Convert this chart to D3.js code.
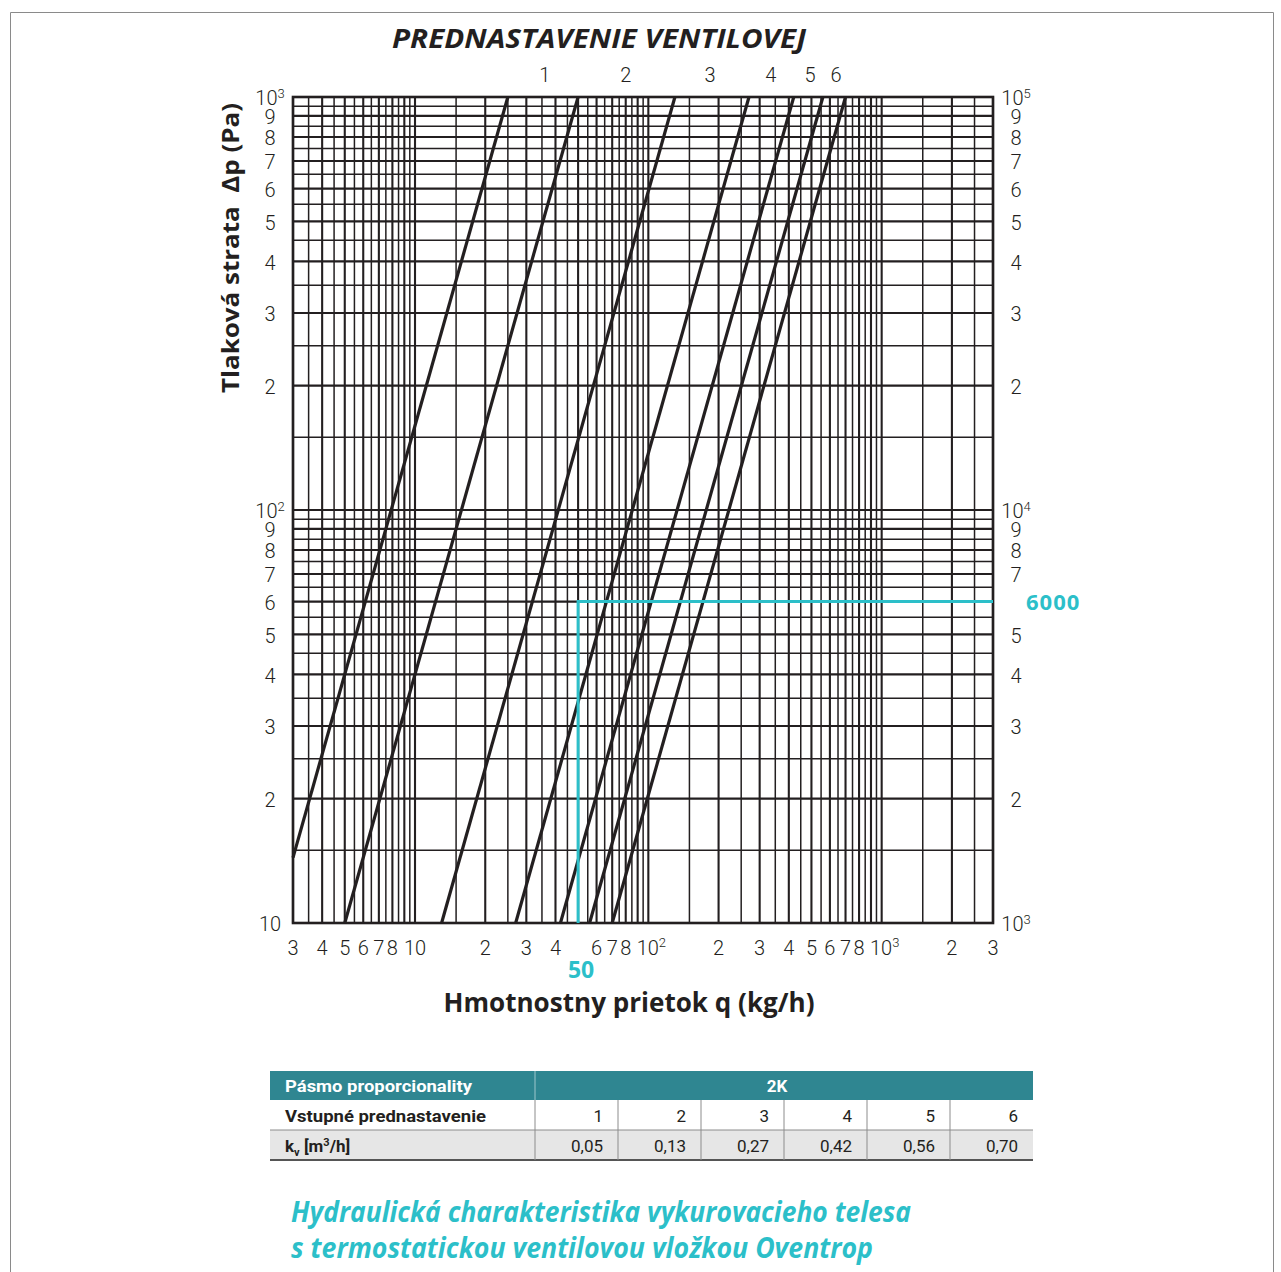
<!DOCTYPE html>
<meta charset="utf-8">
<style>
body { margin: 0; background: #fff; }
text { font-family: Roboto, "Open Sans", sans-serif; fill: #231f20; }
.tick { font-size: 20px; font-weight: 300; }
.title { font-family: "Open Sans", sans-serif; font-weight: 700; font-style: italic; }
.axtitle { font-family: "Open Sans", sans-serif; font-weight: 700; }
.tbl { font-family: "Liberation Sans Narrow", "Roboto Condensed", Roboto, sans-serif; font-size: 17px; }
</style>
<body>
<svg id="chart" width="1281" height="1272"></svg>
<script src="https://d3js.org/d3.v7.min.js"></script>
<script>

// valve lines: endpoints (q in kg/h, dp on left scale)
var lineQLow   = [3, 5, 13, 27, 42, 56, 70],
    lineDpLow  = [14.4, 10, 10, 10, 10, 10, 10],
    lineQHigh  = [25, 50, 130, 270, 420, 560, 700],
    lineDpHigh = [1000, 1000, 1000, 1000, 1000, 1000, 1000];

// presetting labels above the plot
var settingLabels = ["1", "2", "3", "4", "5", "6"],
    settingLabelQ = [36, 80, 184, 335, 493, 637];

// tick labels
var xTickVals = [3, 4, 5, 6, 7, 8, 10, 20, 30, 40, 60, 70, 80, 100, 200, 300, 400, 500, 600, 700, 800, 1000, 2000, 3000];
var yTickVals = [10, 20, 30, 40, 50, 60, 70, 80, 90, 100, 200, 300, 400, 500, 600, 700, 800, 900, 1000];
var yRTickVals = [1000, 2000, 3000, 4000, 5000, 7000, 8000, 9000, 10000, 20000, 30000, 40000, 50000, 60000, 70000, 80000, 90000, 100000];

// example reading
var markQ = 50, markDp = 60,
    markQText = "50", markDpText = "6000";

// table
var tableHeadLeft = "Pásmo proporcionality",
    tableHeadRight = "2K",
    presetRowLabel = "Vstupné prednastavenie",
    presets = ["1", "2", "3", "4", "5", "6"],
    kvValues = ["0,05", "0,13", "0,27", "0,42", "0,56", "0,70"];

var ink = "#231f20", cyan = "#2cbfc9", teal = "#2f8691";

var svg = d3.select("#chart");

var x = d3.scaleLog().domain([3, 3000]).range([293, 993]),
    y = d3.scaleLog().domain([10, 1000]).range([923, 97]),
    yR = d3.scaleLog().domain([1000, 100000]).range([923, 97]);

// outer frame
svg.append("path")
    .attr("d", "M10.5,1272V12.5H1273.5V1272")
    .attr("fill", "none").attr("stroke", "#8a8a8a").attr("stroke-width", 1);

// grid values: every half unit in each decade
function gridValues(lo, hi) {
  var out = [];
  [1, 10, 100, 1000, 10000].forEach(function(dec) {
    for (var m = 2; m < 20; m++) {
      var v = dec * m / 2;
      if (v >= lo - 1e-9 && v <= hi + 1e-9) out.push({v: v, major: m % 2 === 0});
    }
  });
  return out;
}

var g = svg.append("g");

g.selectAll(".vgrid")
  .data(gridValues(3, 3000))
  .enter().append("line")
    .attr("x1", function(d) { return x(d.v); })
    .attr("x2", function(d) { return x(d.v); })
    .attr("y1", y(10)).attr("y2", y(1000))
    .attr("stroke", ink)
    .attr("stroke-width", function(d) { return d.major ? 2.1 : 1.5; });

g.selectAll(".hgrid")
  .data(gridValues(10, 1000))
  .enter().append("line")
    .attr("y1", function(d) { return y(d.v); })
    .attr("y2", function(d) { return y(d.v); })
    .attr("x1", x(3)).attr("x2", x(3000))
    .attr("stroke", ink)
    .attr("stroke-width", function(d) { return d.major ? 2.1 : 1.5; });

g.append("rect")
    .attr("x", x(3)).attr("y", y(1000))
    .attr("width", x(3000) - x(3)).attr("height", y(10) - y(1000))
    .attr("fill", "none").attr("stroke", ink).attr("stroke-width", 2.6);

// valve lines
g.selectAll(".valve")
  .data(lineQLow.map(function(q, i) { return [[q, lineDpLow[i]], [lineQHigh[i], lineDpHigh[i]]]; }))
  .enter().append("line")
    .attr("x1", function(d) { return x(d[0][0]); })
    .attr("y1", function(d) { return y(d[0][1]); })
    .attr("x2", function(d) { return x(d[1][0]); })
    .attr("y2", function(d) { return y(d[1][1]); })
    .attr("stroke", ink).attr("stroke-width", 3.2);

// cyan reading
g.append("path")
    .attr("d", "M" + x(markQ) + "," + y(10) + "V" + y(markDp) + "H" + x(3000))
    .attr("fill", "none").attr("stroke", cyan).attr("stroke-width", 3);

svg.append("text")
    .attr("x", x(markQ) + 3).attr("y", 978)
    .attr("text-anchor", "middle")
    .style("font-family", "'Open Sans', sans-serif").style("font-weight", 700)
    .style("font-size", "23px").style("fill", cyan)
    .text(markQText);

svg.append("text")
    .attr("x", 1026).attr("y", y(markDp)).attr("dy", "0.36em")
    .style("font-family", "'Open Sans', sans-serif").style("font-weight", 700)
    .style("font-size", "22px").style("letter-spacing", "1px").style("fill", cyan)
    .text(markDpText);

// tick label helper: powers of ten get superscripts
function tickText(sel, v, plainTen) {
  var e = Math.round(Math.log10(v));
  if (Math.abs(Math.pow(10, e) - v) < 1e-6) {
    sel.append("tspan").text("10");
    if (!(plainTen && e === 1)) {
      sel.append("tspan").attr("dy", "-0.6em").style("font-size", "13px").text(e);
    }
  } else {
    sel.text(String(v / Math.pow(10, Math.floor(Math.log10(v) + 1e-9))));
  }
}

// left axis labels
yTickVals.forEach(function(v) {
  var t = svg.append("text").attr("class", "tick")
      .attr("x", 270).attr("y", y(v)).attr("dy", "0.42em")
      .attr("text-anchor", "middle");
  tickText(t, v, true);
});

// right axis labels (Pa)
yRTickVals.forEach(function(v) {
  var t = svg.append("text").attr("class", "tick")
      .attr("x", 1016).attr("y", yR(v)).attr("dy", "0.42em")
      .attr("text-anchor", "middle");
  tickText(t, v, false);
});

// bottom labels
xTickVals.forEach(function(v) {
  var t = svg.append("text").attr("class", "tick")
      .attr("x", x(v) + (v === 100 || v === 1000 ? 3 : 0)).attr("y", 955)
      .attr("text-anchor", "middle");
  tickText(t, v, true);
});

// presetting labels
svg.selectAll(".setl")
  .data(settingLabels)
  .enter().append("text").attr("class", "tick")
    .attr("x", function(d, i) { return x(settingLabelQ[i]); })
    .attr("y", 82)
    .attr("text-anchor", "middle")
    .text(function(d) { return d; });

// titles
svg.append("text").attr("class", "title")
    .attr("x", 599).attr("y", 48)
    .attr("text-anchor", "middle")
    .style("font-size", "27px")
    .attr("textLength", 414).attr("lengthAdjust", "spacingAndGlyphs")
    .text("PREDNASTAVENIE VENTILOVEJ");

svg.append("text").attr("class", "axtitle")
    .attr("x", 629).attr("y", 1012)
    .attr("text-anchor", "middle")
    .style("font-size", "26px")
    .attr("textLength", 371).attr("lengthAdjust", "spacingAndGlyphs")
    .text("Hmotnostny prietok q (kg/h)");

svg.append("text").attr("class", "axtitle")
    .attr("transform", "translate(239,248) rotate(-90)")
    .attr("text-anchor", "middle")
    .style("font-size", "24px")
    .style("white-space", "pre")
    .attr("textLength", 290).attr("lengthAdjust", "spacingAndGlyphs")
    .text("Tlaková strata  Δp (Pa)");

// table
var colX = [270, 535, 618, 701, 784, 867, 950, 1033],
    rowY = [1071, 1100, 1130, 1160];

var tb = svg.append("g").attr("class", "tbl");

tb.append("rect").attr("x", colX[0]).attr("y", rowY[0])
    .attr("width", colX[7] - colX[0]).attr("height", rowY[1] - rowY[0]).attr("fill", teal);
tb.append("rect").attr("x", colX[0]).attr("y", rowY[2])
    .attr("width", colX[7] - colX[0]).attr("height", rowY[3] - rowY[2]).attr("fill", "#e6e6e6");
tb.append("line").attr("x1", colX[1]).attr("x2", colX[1]).attr("y1", rowY[0]).attr("y2", rowY[1])
    .attr("stroke", "#9fc7cc").attr("stroke-width", 1);
tb.append("line").attr("x1", colX[0]).attr("x2", colX[7]).attr("y1", rowY[2]).attr("y2", rowY[2])
    .attr("stroke", "#8c8c8c").attr("stroke-width", 1);
tb.append("line").attr("x1", colX[0]).attr("x2", colX[7]).attr("y1", rowY[3]).attr("y2", rowY[3])
    .attr("stroke", "#555").attr("stroke-width", 2);
colX.slice(1, 7).forEach(function(cx) {
  tb.append("line").attr("x1", cx).attr("x2", cx).attr("y1", rowY[1]).attr("y2", rowY[3])
      .attr("stroke", "#8c8c8c").attr("stroke-width", 1);
});

tb.append("text").attr("x", 285).attr("y", 1092)
    .style("fill", "#fff").style("font-weight", 700)
    .attr("textLength", 187).attr("lengthAdjust", "spacingAndGlyphs")
    .text(tableHeadLeft);
tb.append("text").attr("x", (colX[1] + colX[7]) / 2 - 7).attr("y", 1092)
    .attr("text-anchor", "middle")
    .style("fill", "#fff").style("font-weight", 700)
    .text(tableHeadRight);
tb.append("text").attr("x", 285).attr("y", 1122)
    .style("font-weight", 700)
    .attr("textLength", 201).attr("lengthAdjust", "spacingAndGlyphs")
    .text(presetRowLabel);
var kvLabel = tb.append("text").attr("x", 285).attr("y", 1152).style("font-weight", 700);
kvLabel.append("tspan").text("k");
kvLabel.append("tspan").attr("dy", 4).style("font-size", "11px").text("v");
kvLabel.append("tspan").attr("dy", -4).text(" [m");
kvLabel.append("tspan").attr("dy", -6).style("font-size", "11px").text("3");
kvLabel.append("tspan").attr("dy", 6).text("/h]");

presets.forEach(function(p, i) {
  tb.append("text").attr("x", colX[i + 2] - 15).attr("y", 1122)
      .attr("text-anchor", "end").text(p);
  tb.append("text").attr("x", colX[i + 2] - 15).attr("y", 1152)
      .attr("text-anchor", "end").text(kvValues[i]);
});

// caption
["Hydraulická charakteristika vykurovacieho telesa",
 "s termostatickou ventilovou vložkou Oventrop"].forEach(function(s, i) {
  svg.append("text").attr("class", "title")
      .attr("x", 291).attr("y", 1222 + i * 36)
      .style("font-size", "28px").style("fill", cyan)
      .attr("textLength", i === 0 ? 620 : 582).attr("lengthAdjust", "spacingAndGlyphs")
      .text(s);
});

</script>
</body>
</html>
